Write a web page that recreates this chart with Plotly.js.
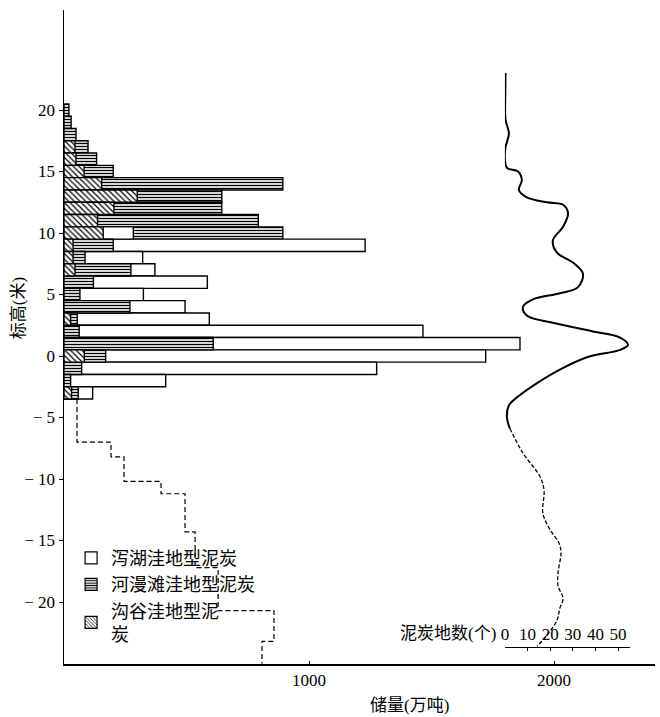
<!DOCTYPE html>
<html>
<head>
<meta charset="utf-8">
<script src="https://cdn.plot.ly/plotly-3.0.1.min.js"></script>
<style>
html,body{margin:0;padding:0;background:#fff;}
#chart{width:660px;height:717px;}
</style>
</head>
<body>
<div id="chart"></div>
<script>
// ---- data (1 m elevation bins, reserves in 万吨) ----
const depthBins      = [20, 19, 18, 17, 16, 15, 14, 13, 12, 11, 10, 9, 8, 7, 6, 5, 4, 3, 2, 1, 0, -1, -2, -3];
const lakePeat       = [0, 0, 0, 0, 0, 0, 0, 0, 0, 0, 283, 1229, 321, 371, 585, 324, 494, 593, 1465, 1861, 1721, 1276, 415, 117];
const floodplainPeat = [20, 29, 49, 98, 133, 201, 893, 644, 644, 793, 893, 201, 86, 273, 120, 65, 269, 54, 62, 609, 170, 72, 27, 58];
const valleyPeat     = [0, 0, 0, 45, 49, 82, 154, 299, 204, 137, 160, 37, 37, 45, 0, 0, 0, 27, 0, 0, 83, 0, 0, 31];
const seriesNames    = ['泻湖洼地型泥炭', '河漫滩洼地型泥炭', '沟谷洼地型泥<br>炭'];

// estimated reserve outline below -3.5 m (dashed step line)
const belowDepths  = [-3.5, -7.0, -8.2, -10.2, -11.2, -14.3, -17.2, -20.7, -23.2, -25.0];
const belowReserve = [53, 192, 245, 396, 494, 535, 629, 857, 808, 808];

// number of peat lands (个) vs elevation
const curveDepthSolid  = [23.0, 21.4, 19.2, 18.1, 17.0, 16.1, 15.3, 15.0, 14.3, 13.5, 12.9, 12.5, 12.3, 11.6, 10.5, 9.4, 8.4, 7.6, 6.7, 5.6, 5.1, 4.6, 4.0, 3.3, 2.7, 2.0, 1.5, 0.9, 0.5, -0.1, -1.1, -2.2, -3.3, -4.0, -5.0, -5.9];
const curveCountSolid  = [0.3, 0.2, 0.3, 1.8, 0.3, 0, 0.9, 5.8, 7.5, 6.2, 9.7, 18.6, 25.7, 27.9, 25.7, 21.2, 23.0, 30.1, 34.5, 32.3, 24.3, 12.4, 8.0, 9.7, 21.2, 38.9, 50.9, 54.4, 50.9, 36.3, 24.3, 14.2, 5.8, 1.8, 0.9, 2.2];
const curveDepthDashed = [-5.9, -7.9, -9.8, -10.9, -12.8, -14.1, -15.2, -16.0, -17.6, -18.7, -19.7, -20.5, -21.5, -22.9, -23.6];
const curveCountDashed = [2.2, 8.0, 15.5, 17.3, 16.8, 19.9, 23.9, 24.8, 23.5, 23.5, 25.7, 24.3, 23.0, 17.7, 14.2];

const yTickVals = [20, 15, 10, 5, 0, -5, -10, -15, -20];
const yTickText = ['20', '15', '10', '5', '0', '− 5', '− 10', '− 15', '− 20'];
const xTickVals = [1000, 2000];
const countTickVals = [0, 10, 20, 30, 40, 50];

// ---- styles ----
const FONT = 'Liberation Serif, "Noto Sans CJK SC", serif';
const styles = [
  {shape: '',  size: 4, solidity: 0.3},   // lake: plain white
  {shape: '-', size: 3, solidity: 0.45},  // floodplain: horizontal lines
  {shape: '\\', size: 4, solidity: 0.3}   // valley: diagonal hatch
];
const seriesVals = [lakePeat, floodplainPeat, valleyPeat];

// overlaid bars: for each bin draw the largest first so smaller ones sit on top
const layers = [0, 1, 2].map(() => ({x: [], shape: [], size: [], sol: []}));
depthBins.forEach((d, i) => {
  const items = seriesVals.map((v, k) => ({k, v: v[i]})).filter(o => o.v > 0).sort((a, b) => b.v - a.v);
  for (let j = 0; j < 3; j++) {
    const L = layers[j];
    if (items[j]) {
      const st = styles[items[j].k];
      L.x.push(items[j].v); L.shape.push(st.shape); L.size.push(st.size); L.sol.push(st.solidity);
    } else {
      L.x.push(null); L.shape.push(''); L.size.push(4); L.sol.push(0.3);
    }
  }
});

const traces = layers.map(L => ({
  type: 'bar', orientation: 'h', x: L.x, y: depthBins, width: 1,
  showlegend: false, hoverinfo: 'skip',
  marker: {color: 'white', line: {color: 'black', width: 1.4},
    pattern: {shape: L.shape, size: L.size, solidity: L.sol, fgcolor: 'black', bgcolor: 'white', fillmode: 'replace'}}
}));

// legend entries
seriesNames.forEach((n, k) => {
  traces.push({type: 'bar', orientation: 'h', x: [null], y: [null], name: n, showlegend: true,
    marker: {color: 'white', line: {color: 'black', width: 1.2},
      pattern: {shape: styles[k].shape, size: 3, solidity: styles[k].solidity, fgcolor: 'black', bgcolor: 'white'}}});
});

traces.push({type: 'scatter', mode: 'lines', x: belowReserve, y: belowDepths, showlegend: false, hoverinfo: 'skip',
  line: {color: 'black', width: 1.2, dash: '5px,3px', shape: 'vh'}});

traces.push({type: 'scatter', mode: 'lines', x: curveCountSolid, y: curveDepthSolid, xaxis: 'x2', yaxis: 'y',
  showlegend: false, hoverinfo: 'skip', line: {color: 'black', width: 2, shape: 'spline', smoothing: 1}});
traces.push({type: 'scatter', mode: 'lines', x: curveCountDashed, y: curveDepthDashed, xaxis: 'x2', yaxis: 'y',
  showlegend: false, hoverinfo: 'skip', line: {color: 'black', width: 1.3, dash: '4px,2px', shape: 'spline', smoothing: 1}});

const layout = {
  width: 660, height: 717,
  margin: {l: 64, r: 5, t: 10, b: 53},
  paper_bgcolor: 'white', plot_bgcolor: 'rgba(0,0,0,0)',
  font: {family: FONT, size: 17, color: 'black'},
  barmode: 'overlay', bargap: 0,
  showlegend: true,
  legend: {x: 0.012, y: 0.19, xanchor: 'left', yanchor: 'top', bgcolor: 'rgba(0,0,0,0)',
    font: {family: FONT, size: 18, color: 'black'}, tracegroupgap: 0, itemwidth: 30, traceorder: 'normal'},
  xaxis: {range: [0, 2412], domain: [0, 1], showline: true, linecolor: 'black', linewidth: 1.5,
    tickvals: xTickVals, ticks: 'inside', ticklen: 3, tickcolor: 'black', showgrid: false, zeroline: false,
    tickfont: {size: 17}, fixedrange: true},
  xaxis2: {domain: [0.746, 0.957], range: [0, 55.1], anchor: 'free', position: 0.026, side: 'top',
    showline: true, linecolor: 'black', linewidth: 1.3, tickvals: countTickVals, ticks: 'inside', ticklen: 3,
    tickcolor: 'black', showgrid: false, zeroline: false, tickfont: {size: 17}},
  yaxis: {range: [-25.04, 28.13], showline: true, linecolor: 'black', linewidth: 1.5,
    tickvals: yTickVals, ticktext: yTickText, ticks: 'outside', ticklen: 4, tickcolor: 'black',
    showgrid: false, zeroline: false, tickfont: {size: 17}},
  annotations: [
    {text: '标高(米)', xref: 'paper', yref: 'paper', x: -0.078, y: 0.544, xanchor: 'center', yanchor: 'middle',
      textangle: -90, showarrow: false, font: {size: 17}},
    {text: '泥炭地数(个)', xref: 'paper', yref: 'paper', x: 0.734, y: 0.047, xanchor: 'right', yanchor: 'middle',
      showarrow: false, font: {size: 17}},
    {text: '储量(万吨)', xref: 'paper', yref: 'paper', x: 0.585, y: -0.064, xanchor: 'center', yanchor: 'middle',
      showarrow: false, font: {size: 17}}
  ]
};

Plotly.newPlot('chart', traces, layout, {staticPlot: true});
</script>
</body>
</html>
